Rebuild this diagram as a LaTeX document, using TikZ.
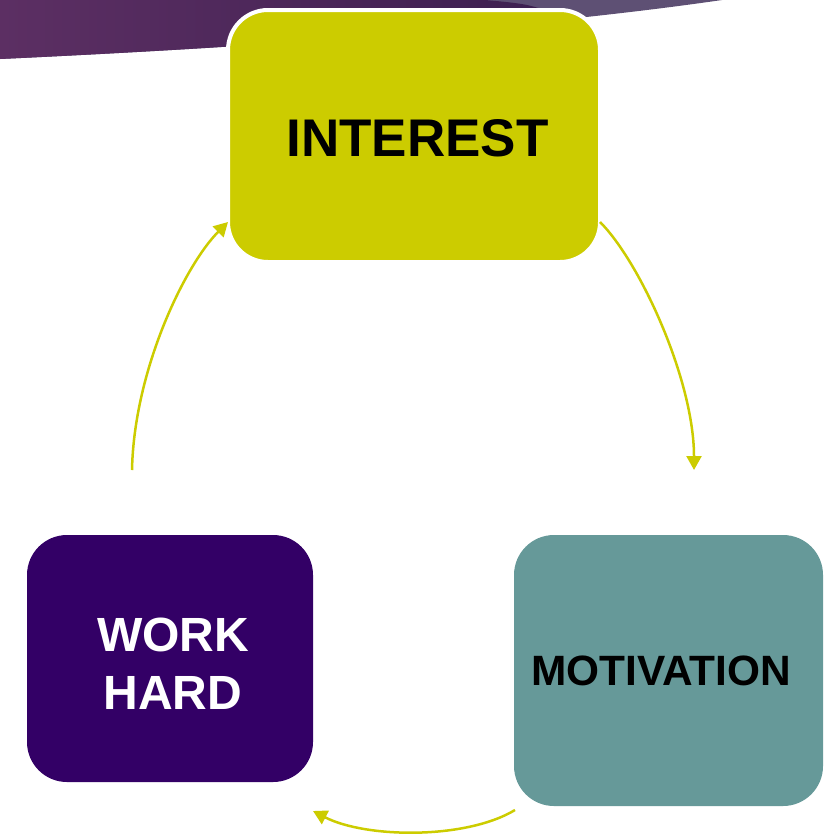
\documentclass[tikz,border=0pt]{standalone}
\usepackage{fontspec}
\setmainfont{Liberation Sans}
\usetikzlibrary{arrows.meta}
\definecolor{olive yellow}{HTML}{CCCC00}
\definecolor{deep purple}{HTML}{330066}
\definecolor{sea teal}{HTML}{669999}
\definecolor{band left}{HTML}{5C2F63}
\definecolor{band dark}{HTML}{3A1E4F}
\definecolor{band light}{HTML}{5E5074}
\tikzset{
stage/.style = { rectangle, rounded corners = 20pt, inner sep = 0pt },
stage text/.style = { align = center, inner sep = 0pt, font = \bfseries },
cycle arrow/.style = { draw = olive yellow, line width = 1.25pt, -{Triangle[length = 7pt, width = 7.5pt]} },
}

\begin{document}
\begin{tikzpicture}[x = 0.5pt, y = -0.5pt]
    \useasboundingbox (0, 0) rectangle (838, 835);
    \fill[band light] (0, 0) -- (722, 0) .. controls (550, 25) and (300, 45) .. (0, 59) -- cycle;
    \begin{scope}
        \clip (0, 0) -- (722, 0) .. controls (550, 25) and (300, 45) .. (0, 59) -- cycle;
        \shade[left color = band left, right color = band dark] (0, 0) -- (485, 0) .. controls (540, 5) .. (600, 40) -- (0, 100) -- cycle;
    \end{scope}
    \node[stage, fill = olive yellow, draw = white, line width = 2pt, minimum width = 186pt, minimum height = 126pt,
        label = {[stage text, font = \bfseries\fontsize{26.5}{30}\selectfont, xshift = 1.75pt, yshift = -1pt]center:INTEREST}] (interest) at (414, 136) {};
    \node[stage, fill = deep purple, minimum width = 143pt, minimum height = 123.5pt,
        label = {[stage text, text = white, font = \bfseries\fontsize{24}{29}\selectfont, xshift = 1.5pt, yshift = -2.5pt]center:WORK\\HARD}] (work hard) at (170, 658.5) {};
    \node[stage, fill = sea teal, minimum width = 154.5pt, minimum height = 135.5pt,
        label = {[stage text, font = \bfseries\fontsize{21.2}{24}\selectfont, xshift = -3.75pt]center:MOTIVATION}] (motivation) at (668.5, 670.5) {};
    \coordinate (interest out) at (600, 222);
    \coordinate (motivation in) at (694, 470);
    \coordinate (motivation out) at (515, 810);
    \coordinate (work hard in) at (313, 811);
    \coordinate (work hard out) at (132, 470);
    \coordinate (interest in) at (228, 222);
    \draw[cycle arrow] (interest out) .. controls (640, 262) and (694, 380) .. (motivation in);
    \draw[cycle arrow] (motivation out) .. controls (465, 840) and (365, 838) .. (work hard in);
    \draw[cycle arrow] (work hard out) .. controls (134, 370) and (185, 265) .. (interest in);
\end{tikzpicture}
\end{document}
